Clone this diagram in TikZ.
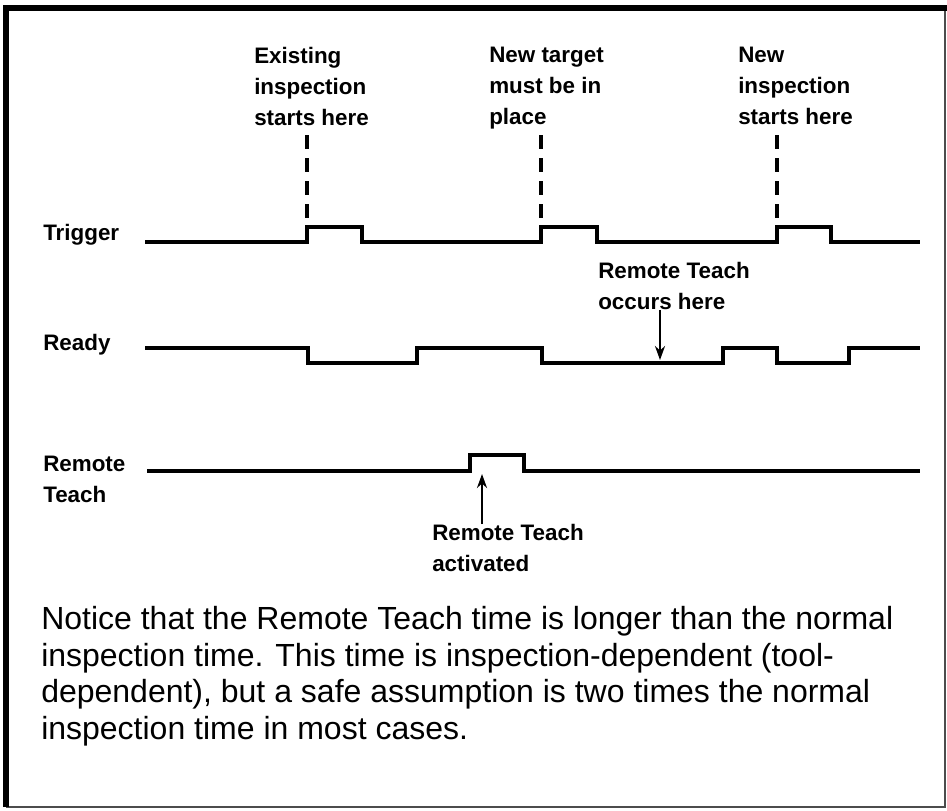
\documentclass[tikz,border=0pt]{standalone}
\usepackage{fontspec}
\setmainfont{Liberation Sans}
\usetikzlibrary{arrows.meta}

\tikzset{
  sig/.style={line width=2.5pt},
  cue/.style={line width=2.3pt,dash pattern=on 10.5pt off 6.75pt},
  lbl/.style={anchor=north west,inner sep=0pt,align=left,
    font=\bfseries\fontsize{16.8}{23.25}\selectfont},
  note/.style={anchor=north west,inner sep=0pt,align=left,
    font=\fontsize{24}{27.5}\selectfont},
}

\begin{document}
\begin{tikzpicture}[x=0.75pt,y=-0.75pt,>={Stealth[length=10.5pt,width=7.5pt]}]
\useasboundingbox (0,0) rectangle (947,811);
\fill[white] (0,0) rectangle (947,811);
% frame
\draw[line width=1.5pt,black!70] (6,807)--(945,807)--(945,8);
\draw[line width=4.5pt] (6,807)--(6,8)--(947,8);

% signal names
\node[lbl] (trig) at (43,224) {Trigger};
\node[lbl] (rdy) at (43,334) {Ready};
\node[lbl] (rteach) at (43,456) {Remote\\Teach};

% waveforms
\draw[sig](145,242)--(307,242)--(307,227)--(362,227)--(362,242)
  --(541,242)--(541,227)--(597,227)--(597,242)
  --(777,242)--(777,227)--(831,227)--(831,242)--(920,242);
\draw[sig](145,348)--(308,348)--(308,363)--(417,363)--(417,348)
  --(542,348)--(542,363)--(723,363)--(723,348)
  --(777,348)--(777,363)--(849,363)--(849,348)--(920,348);
\draw[sig](147,471)--(470,471)--(470,455)--(524,455)--(524,471)--(920,471);

\coordinate (e1) at (307,227);
\coordinate (e2) at (541,227);
\coordinate (e3) at (777,227);
\coordinate (occ) at (660,360);
\coordinate (act) at (482,474);

% callouts
\node[lbl] (exist) at (254,47) {Existing\\inspection\\starts here};
\node[lbl] (target) at (489,47) {New target\\must be in\\place};
\node[lbl] (newinsp) at (738,47) {New\\inspection\\starts here};
\node[lbl] (occurs) at (598,262) {Remote Teach\\occurs here};
\node[lbl] (activ) at (432,524) {Remote Teach\\activated};

\draw[cue] (e1 |- 0,135)--(e1);
\draw[cue] (e2 |- 0,135)--(e2);
\draw[cue] (e3 |- 0,135)--(e3);
\draw[->,line width=2.1pt] (occurs.south -| occ)--(occ);
\draw[->,line width=2.1pt] (activ.north -| act)--(act);

\node[note] (remark) at (41,606) {Notice that the Remote Teach time is longer than the normal\\
inspection time. This time is inspection-dependent (tool-\\
dependent), but a safe assumption is two times the normal\\
inspection time in most cases.};
\end{tikzpicture}
\end{document}
